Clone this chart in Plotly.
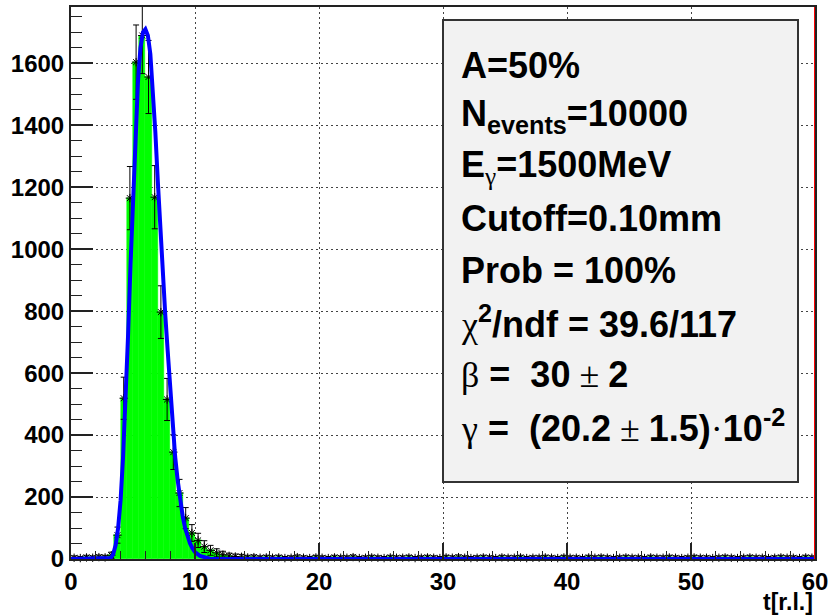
import plotly.graph_objects as go

# ---------------- data ----------------
bin_width = 0.5
n_bins = 120
bin_centers = [bin_width * (i + 0.5) for i in range(n_bins)]

counts = [
    4, 3, 5, 4, 6, 5, 12, 77,              # 0.25 .. 3.75
    519, 1165, 1604, 1690, 1556, 1168, 797, 515,   # 4.25 .. 7.75
    345, 213, 132, 84, 60, 40, 28, 20,     # 8.25 .. 11.75
    14, 10, 8, 7, 5, 6, 4, 5,              # 12.25 .. 15.75
    4, 5, 3, 4, 6, 4, 3, 5,
    4, 3, 5, 4, 4, 6, 3, 4,
    5, 4, 3, 5, 4, 4, 5, 3,
    4, 5, 4, 3, 5, 4, 6, 4,
    3, 4, 5, 4, 3, 5, 4, 4,
    5, 3, 4, 4, 5, 4, 3, 5,
    4, 4, 3, 5, 4, 5, 4, 3,
    4, 5, 4, 4, 3, 5, 4, 4,
    5, 4, 3, 4, 5, 4, 4, 3,
    4, 5, 4, 3, 4, 5, 4, 4,
    3, 4, 5, 4, 4, 3, 5, 4,
]
errors = [
    6, 5, 7, 6, 7, 7, 10, 26,
    68, 102, 120, 123, 118, 102, 85, 68,
    56, 44, 34, 27, 23, 19, 16, 13,
    11, 9, 8, 8, 7, 7, 6, 7,
    6, 7, 5, 6, 7, 6, 5, 7,
    6, 5, 7, 6, 6, 7, 5, 6,
    7, 6, 5, 7, 6, 6, 7, 5,
    6, 7, 6, 5, 7, 6, 7, 6,
    5, 6, 7, 6, 5, 7, 6, 6,
    7, 5, 6, 6, 7, 6, 5, 7,
    6, 6, 5, 7, 6, 7, 6, 5,
    6, 7, 6, 6, 5, 7, 6, 6,
    7, 6, 5, 6, 7, 6, 6, 5,
    6, 7, 6, 5, 6, 7, 6, 6,
    5, 6, 7, 6, 6, 5, 7, 6,
]

fit_t = [0.0, 3.0, 3.2, 3.4, 3.6, 3.8, 4.0, 4.2, 4.4, 4.6, 4.8, 5.0, 5.2, 5.4,
         5.6, 5.8, 6.0, 6.2, 6.4, 6.6, 6.8, 7.0, 7.2, 7.4, 7.6, 7.8, 8.0, 8.2,
         8.4, 8.6, 8.8, 9.0, 9.2, 9.4, 9.6, 9.8, 10.0, 10.4, 10.8, 11.2, 12.0, 60.0]
fit_v = [0, 0, 3, 15, 45, 100, 190, 330, 500, 720, 950, 1140, 1350, 1540,
         1650, 1700, 1710, 1690, 1630, 1520, 1380, 1220, 1060, 920, 790, 670, 560, 430,
         330, 255, 190, 140, 100, 72, 50, 34, 22, 10, 4, 1, 0, 0]

x_ticks = [0, 10, 20, 30, 40, 50, 60]
y_ticks = [0, 200, 400, 600, 800, 1000, 1200, 1400, 1600]
x_title = "t[r.l.]"

G = 'font-family:Liberation Serif;font-weight:normal'
legend_lines = [
    "A=50%",
    "N<sub>events</sub>=10000",
    f"E<sub><span style=\"{G}\">γ</span></sub>=1500MeV",
    "Cutoff=0.10mm",
    "Prob = 100%",
    f"<span style=\"{G}\">χ</span><sup>2</sup>/ndf = 39.6/117",
    f"<span style=\"{G}\">β</span> =\u00a0 30<span style=\"{G}\"> ± </span>2",
    f"<span style=\"{G}\">γ</span> =\u00a0 (20.2<span style=\"{G}\"> ± </span>1.5)<span style=\"{G}\">·</span>10<sup>-2</sup>",
]
legend_y_px = [65, 116, 167, 218, 270, 322, 374, 426]

# ---------------- geometry ----------------
W, H = 829, 616
ML, MR, MT, MB = 71, 14, 7, 57
PW, PH = W - ML - MR, H - MT - MB
Y_MAX = 1782
FONT = "Liberation Sans, Arial, sans-serif"


def px_x(px):
    return (px - ML) / PW


def px_y(py):
    return (H - MB - py) / PH


fig = go.Figure()

fig.add_trace(go.Bar(
    x=bin_centers, y=counts, width=bin_width,
    marker=dict(color="#00ff00", line=dict(width=0.5, color="#00ff00")),
    hoverinfo="skip", showlegend=False,
))

fig.add_trace(go.Scatter(
    x=bin_centers, y=counts, mode="markers",
    marker=dict(size=1, color="rgba(0,0,0,0)"),
    error_y=dict(type="data", array=errors, visible=True, color="black",
                 thickness=1, width=3),
    showlegend=False, hoverinfo="skip",
))

fig.add_trace(go.Scatter(
    x=bin_centers, y=counts, mode="markers",
    marker=dict(symbol="asterisk-open", size=7, color="black",
                line=dict(width=1, color="black")),
    cliponaxis=False, showlegend=False, hoverinfo="skip",
))

fig.add_trace(go.Scatter(
    x=fit_t, y=fit_v, mode="lines",
    line=dict(color="#0000ff", width=4),
    showlegend=False, hoverinfo="skip",
))

# red vertical line at the right edge
fig.add_shape(type="line", xref="x", yref="paper", x0=60, x1=60, y0=0, y1=1,
              line=dict(color="#ff0000", width=2), layer="above")

# stats box
fig.add_shape(type="rect", xref="paper", yref="paper",
              x0=px_x(443), x1=px_x(798), y0=px_y(482), y1=px_y(20),
              fillcolor="#f2f2f2", line=dict(color="#333333", width=2),
              layer="above")

for txt, ypx in zip(legend_lines, legend_y_px):
    fig.add_annotation(
        xref="paper", yref="paper", x=px_x(459), y=px_y(ypx),
        xanchor="left", yanchor="middle", showarrow=False, text=txt,
        font=dict(family=FONT, size=36, color="black", weight="bold"),
    )

fig.add_annotation(
    xref="paper", yref="paper", x=px_x(815), y=px_y(602),
    xanchor="right", yanchor="middle", showarrow=False, text=x_title,
    font=dict(family=FONT, size=23, color="black", weight="bold"),
)

axis_common = dict(
    showline=True, linecolor="#222222", linewidth=2, mirror=True,
    ticks="inside", tickcolor="#222222", tickwidth=1.5,
    showgrid=True, gridcolor="#444444", gridwidth=1, griddash="2px,3px",
    zeroline=False, automargin=False,
    tickfont=dict(family=FONT, size=24, color="black", weight="bold"),
)

fig.update_xaxes(
    range=[0, 60], tickmode="array", tickvals=x_ticks,
    ticktext=[str(v) for v in x_ticks], ticklen=16,
    minor=dict(dtick=2, ticklen=8, ticks="inside", tickcolor="#222222",
               tickwidth=1.2, showgrid=False),
    **axis_common,
)
fig.update_yaxes(
    range=[0, Y_MAX], tickmode="array", tickvals=y_ticks,
    ticktext=[str(v) for v in y_ticks], ticklen=22,
    minor=dict(dtick=50, ticklen=11, ticks="inside", tickcolor="#222222",
               tickwidth=1.2, showgrid=False),
    **axis_common,
)

fig.update_layout(
    width=W, height=H,
    margin=dict(l=ML, r=MR, t=MT, b=MB, autoexpand=False),
    paper_bgcolor="white", plot_bgcolor="white",
    bargap=0, showlegend=False,
)

fig.write_html("out.html")
